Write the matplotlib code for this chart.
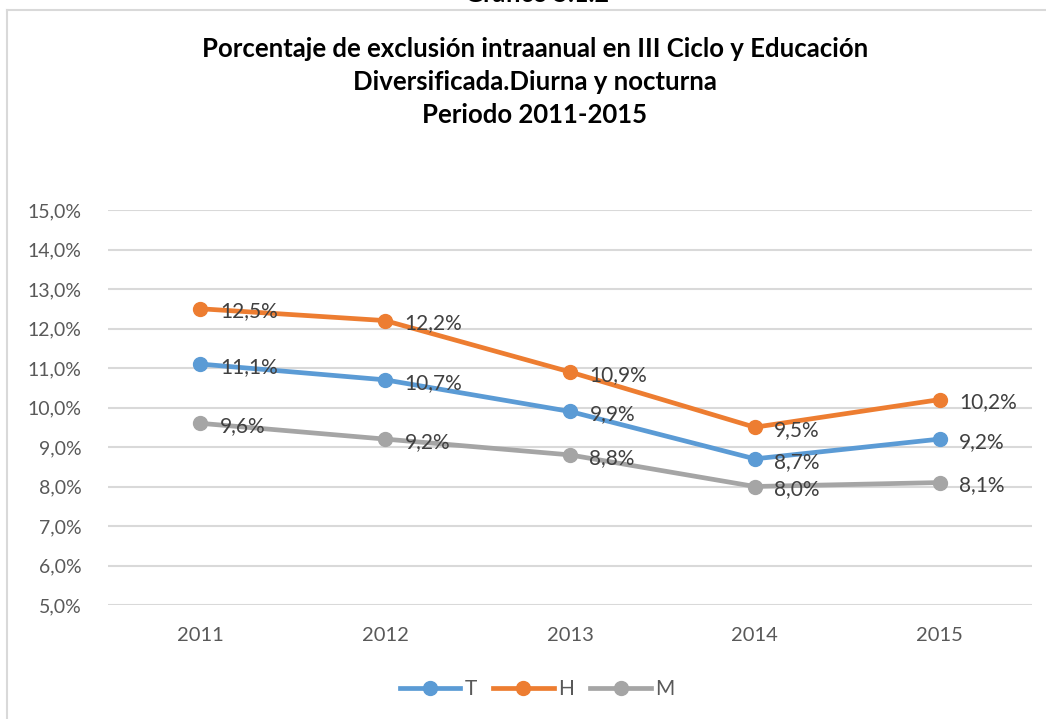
import matplotlib
matplotlib.use("Agg")
import matplotlib.pyplot as plt
from matplotlib.lines import Line2D

plt.rcParams['font.family'] = ['Lato', 'DejaVu Sans']

years = ["2011", "2012", "2013", "2014", "2015"]
serie_T = [11.1, 10.7, 9.9, 8.7, 9.2]
serie_H = [12.5, 12.2, 10.9, 9.5, 10.2]
serie_M = [9.6, 9.2, 8.8, 8.0, 8.1]
series_names = ["T", "H", "M"]
colors = ["#5B9BD5", "#ED7D31", "#A5A5A5"]
yticks = [5, 6, 7, 8, 9, 10, 11, 12, 13, 14, 15]

W, H = 1046, 719
fig = plt.figure(figsize=(W / 100, H / 100), dpi=100)

# outer frame (top and left edges visible)
fig.add_artist(Line2D([7 / W, 7 / W], [0, 1 - 9.5 / H], transform=fig.transFigure,
                      color="#D9D9D9", lw=1.5))
fig.add_artist(Line2D([7 / W, 1], [1 - 9.5 / H, 1 - 9.5 / H], transform=fig.transFigure,
                      color="#D9D9D9", lw=1.5))
fig.text(537 / W, 1 + 6 / H, "Gráfico 5.1.2", ha="center", va="center",
         fontsize=18, fontweight="bold", color="black")

title = ("Porcentaje de exclusión intraanual en III Ciclo y Educación\n"
         "Diversificada.Diurna y nocturna\nPeriodo 2011-2015")
fig.text(535 / W, 1 - 82 / H, title, ha="center", va="center", fontsize=18.5,
         fontweight="bold", color="black", linespacing=1.45)

ax = fig.add_axes([108 / W, 1 - 605 / H, (1032 - 108) / W, (605 - 210) / H])
x = list(range(len(years)))
all_series = [serie_T, serie_H, serie_M]
for vals, name, c in zip(all_series, series_names, colors):
    ax.plot(x, vals, color=c, lw=3.4, marker="o", markersize=10, label=name,
            solid_capstyle="round", zorder=3)
    for xi, v in zip(x, vals):
        ax.annotate(f"{v:.1f}%".replace(".", ","), (xi, v), xytext=(14, -2),
                    textcoords="offset points", ha="left", va="center",
                    fontsize=15, color="#404040", zorder=4)

ax.set_xlim(-0.5, len(years) - 0.5)
ax.set_ylim(5, 15)
ax.set_yticks(yticks)
ax.set_yticklabels([f"{t:.1f}%".replace(".", ",") for t in yticks])
ax.set_xticks(x)
ax.set_xticklabels(years)
ax.tick_params(axis="both", length=0, labelsize=14, labelcolor="#595959")
ax.tick_params(axis="y", pad=19)
ax.tick_params(axis="x", pad=16, labelsize=14.5)
ax.grid(axis="y", color="#D9D9D9", lw=1.5)
ax.set_axisbelow(True)
for s in ax.spines.values():
    s.set_visible(False)

handles = [Line2D([0], [0], color=c, lw=3.4, marker="o", markersize=10) for c in colors]
fig.legend(handles, series_names, loc="center", bbox_to_anchor=(537 / W, 1 - 689 / H),
           ncol=3, frameon=False, fontsize=15, handlelength=2.9, columnspacing=0.8,
           handletextpad=0.2, labelcolor="#595959")

fig.savefig("out.png", dpi=100)
